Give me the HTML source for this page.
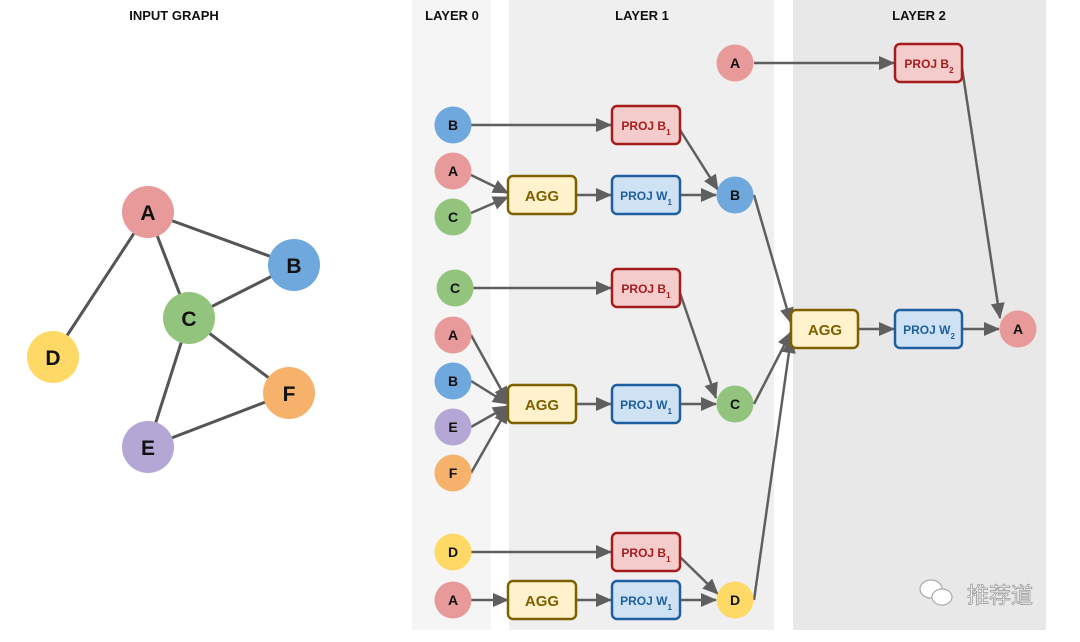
<!DOCTYPE html>
<html><head><meta charset="utf-8"><style>
html,body{margin:0;padding:0;background:#fff;}
svg{display:block;font-family:"Liberation Sans","Noto Sans CJK SC",sans-serif;font-weight:bold;}
</style></head><body>
<svg width="1080" height="642" viewBox="0 0 1080 642" xmlns="http://www.w3.org/2000/svg">
<defs>
<marker id="ah" markerWidth="16" markerHeight="14" refX="15" refY="7" orient="auto" markerUnits="userSpaceOnUse">
<path d="M0,0 L16,7 L0,14 z" fill="#5f5f5f"/></marker>
</defs>
<rect x="412" y="0" width="79" height="630" fill="#f5f5f5"/>
<rect x="509" y="0" width="265" height="630" fill="#efefef"/>
<rect x="793" y="0" width="253" height="630" fill="#e8e8e8"/>
<g font-size="13" fill="#111" text-anchor="middle">
<text x="174" y="20">INPUT GRAPH</text>
<text x="452" y="20">LAYER 0</text>
<text x="642" y="20">LAYER 1</text>
<text x="919" y="20">LAYER 2</text>
</g>
<g stroke="#555" stroke-width="3">
<line x1="148" y1="212" x2="294" y2="265"/>
<line x1="148" y1="212" x2="189" y2="318"/>
<line x1="148" y1="212" x2="53" y2="357"/>
<line x1="189" y1="318" x2="294" y2="265"/>
<line x1="189" y1="318" x2="289" y2="393"/>
<line x1="189" y1="318" x2="148" y2="447"/>
<line x1="148" y1="447" x2="289" y2="393"/>
</g>
<g font-size="21" text-anchor="middle" fill="#111">
<circle cx="148" cy="212" r="26" fill="#e89a9a"/><text x="148" y="220">A</text>
<circle cx="294" cy="265" r="26" fill="#6fa8dc"/><text x="294" y="273">B</text>
<circle cx="189" cy="318" r="26" fill="#93c47d"/><text x="189" y="326">C</text>
<circle cx="53" cy="357" r="26" fill="#ffd966"/><text x="53" y="365">D</text>
<circle cx="148" cy="447" r="26" fill="#b4a7d6"/><text x="148" y="455">E</text>
<circle cx="289" cy="393" r="26" fill="#f6b26b"/><text x="289" y="401">F</text>
</g>
<g stroke="#5f5f5f" stroke-width="2.5" marker-end="url(#ah)">
<line x1="471" y1="125" x2="611" y2="125"/>
<line x1="471" y1="175" x2="508" y2="193"/>
<line x1="471" y1="213" x2="508" y2="197"/>
<line x1="576" y1="195" x2="611" y2="195"/>
<line x1="680" y1="195" x2="716" y2="195"/>
<line x1="680" y1="130" x2="718" y2="190"/>
<line x1="473" y1="288" x2="611" y2="288"/>
<line x1="471" y1="335" x2="508" y2="402"/>
<line x1="471" y1="381" x2="508" y2="404"/>
<line x1="471" y1="427" x2="508" y2="406"/>
<line x1="471" y1="473" x2="508" y2="408"/>
<line x1="576" y1="404" x2="611" y2="404"/>
<line x1="680" y1="404" x2="716" y2="404"/>
<line x1="680" y1="293" x2="716" y2="398"/>
<line x1="471" y1="552" x2="611" y2="552"/>
<line x1="471" y1="600" x2="508" y2="600"/>
<line x1="576" y1="600" x2="611" y2="600"/>
<line x1="680" y1="600" x2="716" y2="600"/>
<line x1="680" y1="557" x2="718" y2="594"/>
<line x1="754" y1="195" x2="791" y2="323"/>
<line x1="754" y1="404" x2="791" y2="332"/>
<line x1="754" y1="600" x2="791" y2="338"/>
<line x1="858" y1="329" x2="894" y2="329"/>
<line x1="962" y1="329" x2="999" y2="329"/>
<line x1="754" y1="63" x2="894" y2="63"/>
<line x1="962" y1="68" x2="1000" y2="318"/>
</g>
<g stroke-width="2.5">
<g fill="#f4cccc" stroke="#a61c1c">
<rect x="612" y="106" width="68" height="38" rx="5"/>
<rect x="612" y="269" width="68" height="38" rx="5"/>
<rect x="612" y="533" width="68" height="38" rx="5"/>
<rect x="895" y="44" width="67" height="38" rx="5"/>
</g>
<g fill="#cfe2f3" stroke="#1f5fa0">
<rect x="612" y="176" width="68" height="38" rx="5"/>
<rect x="612" y="385" width="68" height="38" rx="5"/>
<rect x="612" y="581" width="68" height="38" rx="5"/>
<rect x="895" y="310" width="67" height="38" rx="5"/>
</g>
<g fill="#fff2cc" stroke="#7f6000">
<rect x="508" y="176" width="68" height="38" rx="5"/>
<rect x="508" y="385" width="68" height="38" rx="5"/>
<rect x="508" y="581" width="68" height="38" rx="5"/>
<rect x="791" y="310" width="67" height="38" rx="5"/>
</g>
</g>
<g font-size="12" text-anchor="middle">
<g fill="#a61c1c">
<text x="646" y="130">PROJ B<tspan font-size="8" dy="5">1</tspan></text>
<text x="646" y="293">PROJ B<tspan font-size="8" dy="5">1</tspan></text>
<text x="646" y="557">PROJ B<tspan font-size="8" dy="5">1</tspan></text>
<text x="929" y="68">PROJ B<tspan font-size="8" dy="5">2</tspan></text>
</g>
<g fill="#1f5fa0">
<text x="646" y="200">PROJ W<tspan font-size="8" dy="5">1</tspan></text>
<text x="646" y="409">PROJ W<tspan font-size="8" dy="5">1</tspan></text>
<text x="646" y="605">PROJ W<tspan font-size="8" dy="5">1</tspan></text>
<text x="929" y="334">PROJ W<tspan font-size="8" dy="5">2</tspan></text>
</g>
</g>
<g font-size="15" text-anchor="middle" fill="#7f6000">
<text x="542" y="201">AGG</text>
<text x="542" y="410">AGG</text>
<text x="542" y="606">AGG</text>
<text x="825" y="335">AGG</text>
</g>
<g font-size="14" text-anchor="middle" fill="#111">
<circle cx="453" cy="125" r="18.5" fill="#6fa8dc"/><text x="453" y="130">B</text>
<circle cx="453" cy="171" r="18.5" fill="#e89a9a"/><text x="453" y="176">A</text>
<circle cx="453" cy="217" r="18.5" fill="#93c47d"/><text x="453" y="222">C</text>
<circle cx="455" cy="288" r="18.5" fill="#93c47d"/><text x="455" y="293">C</text>
<circle cx="453" cy="335" r="18.5" fill="#e89a9a"/><text x="453" y="340">A</text>
<circle cx="453" cy="381" r="18.5" fill="#6fa8dc"/><text x="453" y="386">B</text>
<circle cx="453" cy="427" r="18.5" fill="#b4a7d6"/><text x="453" y="432">E</text>
<circle cx="453" cy="473" r="18.5" fill="#f6b26b"/><text x="453" y="478">F</text>
<circle cx="453" cy="552" r="18.5" fill="#ffd966"/><text x="453" y="557">D</text>
<circle cx="453" cy="600" r="18.5" fill="#e89a9a"/><text x="453" y="605">A</text>
<circle cx="735" cy="63" r="18.5" fill="#e89a9a"/><text x="735" y="68">A</text>
<circle cx="735" cy="195" r="18.5" fill="#6fa8dc"/><text x="735" y="200">B</text>
<circle cx="735" cy="404" r="18.5" fill="#93c47d"/><text x="735" y="409">C</text>
<circle cx="735" cy="600" r="18.5" fill="#ffd966"/><text x="735" y="605">D</text>
<circle cx="1018" cy="329" r="18.5" fill="#e89a9a"/><text x="1018" y="334">A</text>
</g>
<g fill="#fff" stroke="#aaa" stroke-width="1.2">
<ellipse cx="931" cy="589" rx="11" ry="9"/>
<ellipse cx="942" cy="597" rx="10" ry="8"/>
</g>
<text x="967" y="603" font-size="22" font-weight="normal" fill="#fff" stroke="#999" stroke-width="0.8" font-family="'Noto Sans CJK SC',sans-serif">推荐道</text>
</svg>
</body></html>
